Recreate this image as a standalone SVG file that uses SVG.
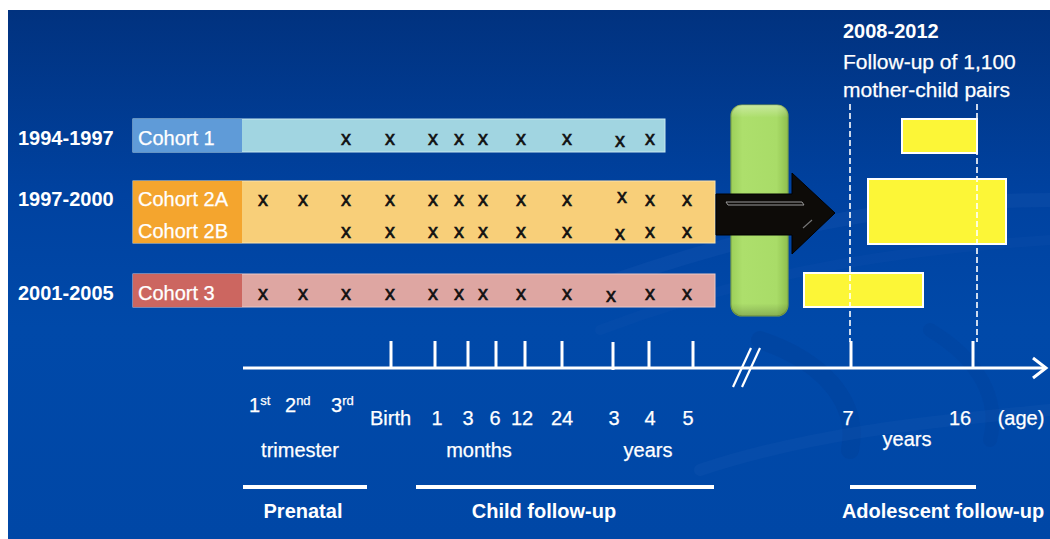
<svg xmlns="http://www.w3.org/2000/svg" width="1050" height="539" viewBox="0 0 1050 539">
  <defs>
    <linearGradient id="bg" x1="0" y1="0" x2="0" y2="1">
      <stop offset="0" stop-color="#01327f"/>
      <stop offset="0.35" stop-color="#0042a0"/>
      <stop offset="0.6" stop-color="#0049a9"/>
      <stop offset="1" stop-color="#0047a6"/>
    </linearGradient>
    <linearGradient id="green" x1="0" y1="0" x2="1" y2="0">
      <stop offset="0" stop-color="#9ccf5a"/>
      <stop offset="0.2" stop-color="#addf6c"/>
      <stop offset="0.8" stop-color="#a9dc68"/>
      <stop offset="1" stop-color="#8fbf4e"/>
    </linearGradient>
    <linearGradient id="greenTop" x1="0" y1="0" x2="0" y2="1">
      <stop offset="0" stop-color="#ffffff" stop-opacity="0.35"/>
      <stop offset="0.06" stop-color="#ffffff" stop-opacity="0"/>
      <stop offset="0.94" stop-color="#000000" stop-opacity="0"/>
      <stop offset="1" stop-color="#000000" stop-opacity="0.2"/>
    </linearGradient>
    <marker id="chev" markerWidth="18" markerHeight="24" refX="15" refY="12" orient="auto" markerUnits="userSpaceOnUse">
      <path d="M2,2 L15,12 L2,22" fill="none" stroke="#ffffff" stroke-width="3"/>
    </marker>
  </defs>
  <style>
    .t { font-family: "Liberation Sans", Arial, sans-serif; fill: #ffffff; }
    .reg { font-size: 20px; stroke: #ffffff; stroke-width: 0.25; }
    .bold { font-size: 20px; font-weight: bold; }
    .sup { font-size: 13px; }
    .x { font-family: "Liberation Sans", Arial, sans-serif; font-size: 20px; fill: #111111; stroke: #111111; stroke-width: 0.6; text-anchor: middle; }
    .mid { text-anchor: middle; }
    .axis { stroke: #ffffff; stroke-width: 3; fill: none; }
    .bar { stroke: #ffffff; stroke-width: 4; }
    .dash { stroke: #ffffff; stroke-width: 1.6; stroke-dasharray: 6 3; fill: none; }
    .ybox { fill: #fcf637; stroke: #ffffff; stroke-width: 2; }
  </style>

  <!-- backdrop -->
  <rect x="0" y="0" width="1050" height="539" fill="#ffffff"/>
  <rect x="8" y="10" width="1042" height="529" fill="url(#bg)"/>
  <g fill="none" stroke-linecap="round">
    <path d="M560,300 C720,240 880,200 1050,200" stroke="#3a74c4" stroke-opacity="0.12" stroke-width="14"/>
    <path d="M600,330 C760,270 900,250 1050,240" stroke="#2a66b8" stroke-opacity="0.1" stroke-width="10"/>
    <path d="M760,340 C820,360 860,400 850,450" stroke="#003a90" stroke-opacity="0.25" stroke-width="18"/>
    <path d="M930,330 C980,360 1000,400 990,440" stroke="#003a90" stroke-opacity="0.2" stroke-width="14"/>
    <path d="M700,470 C820,430 950,420 1050,410" stroke="#3a74c4" stroke-opacity="0.1" stroke-width="12"/>
  </g>

  <!-- period headings -->
  <g id="period-labels">
    <text class="t bold" x="18" y="145">1994-1997</text>
    <text class="t bold" x="18" y="206">1997-2000</text>
    <text class="t bold" x="18" y="300">2001-2005</text>
  </g>

  <!-- Cohort 1 -->
  <g id="cohort1">
    <rect x="133" y="119" width="532" height="33" fill="#a1d5e1" stroke="#c8e8ef" stroke-width="1"/>
    <rect x="133" y="119" width="109" height="33" fill="#5f9bd8"/>
    <text class="t reg" x="138" y="145">Cohort 1</text>
    <text class="x" y="145"><tspan x="346">x</tspan><tspan x="390">x</tspan><tspan x="433">x</tspan><tspan x="459">x</tspan><tspan x="483">x</tspan><tspan x="521">x</tspan><tspan x="567">x</tspan><tspan x="620" dy="2">x</tspan><tspan x="650" dy="-2">x</tspan></text>
  </g>

  <!-- Cohort 2A / 2B -->
  <g id="cohort2">
    <rect x="133" y="181" width="582" height="62" fill="#f8cf79" stroke="#fbe2ac" stroke-width="1"/>
    <rect x="133" y="181" width="109" height="62" fill="#f4a52e"/>
    <text class="t reg" x="138" y="206">Cohort 2A</text>
    <text class="t reg" x="138" y="238">Cohort 2B</text>
    <text class="x" y="206"><tspan x="263">x</tspan><tspan x="303">x</tspan><tspan x="346">x</tspan><tspan x="390">x</tspan><tspan x="433">x</tspan><tspan x="459">x</tspan><tspan x="483">x</tspan><tspan x="521">x</tspan><tspan x="567">x</tspan><tspan x="622" dy="-3">x</tspan><tspan x="650" dy="3">x</tspan><tspan x="687">x</tspan></text>
    <text class="x" y="238"><tspan x="346">x</tspan><tspan x="390">x</tspan><tspan x="433">x</tspan><tspan x="459">x</tspan><tspan x="483">x</tspan><tspan x="521">x</tspan><tspan x="567">x</tspan><tspan x="620" dy="2">x</tspan><tspan x="650" dy="-2">x</tspan><tspan x="687">x</tspan></text>
  </g>

  <!-- Cohort 3 -->
  <g id="cohort3">
    <rect x="133" y="274" width="582" height="33" fill="#dea6a2" stroke="#ecc8c5" stroke-width="1"/>
    <rect x="133" y="274" width="109" height="33" fill="#cc6660"/>
    <text class="t reg" x="138" y="300">Cohort 3</text>
    <text class="x" y="300"><tspan x="263">x</tspan><tspan x="303">x</tspan><tspan x="346">x</tspan><tspan x="390">x</tspan><tspan x="433">x</tspan><tspan x="459">x</tspan><tspan x="483">x</tspan><tspan x="521">x</tspan><tspan x="567">x</tspan><tspan x="611" dy="2">x</tspan><tspan x="650" dy="-2">x</tspan><tspan x="687">x</tspan></text>
  </g>

  <!-- transition pillar -->
  <g id="pillar">
    <rect x="731" y="105" width="57" height="211" rx="11" fill="url(#green)" stroke="#7ea648" stroke-width="1.2"/>
    <rect x="731" y="105" width="57" height="211" rx="11" fill="url(#greenTop)"/>
  </g>

  <!-- follow-up study -->
  <g id="followup-heading">
    <text class="t bold" x="843" y="38">2008-2012</text>
    <text class="t" x="843" y="69" font-size="21" stroke="#ffffff" stroke-width="0.25">Follow-up of 1,100</text>
    <text class="t" x="843" y="97" font-size="21" stroke="#ffffff" stroke-width="0.25">mother-child pairs</text>
  </g>
  <g id="followup-boxes">
    <rect class="ybox" x="902" y="119" width="75" height="34"/>
    <rect class="ybox" x="868" y="179" width="138" height="65"/>
    <rect class="ybox" x="804" y="273" width="119" height="34"/>
  </g>

  <!-- connectors -->
  <g id="connectors">
    <!-- transfer arrow -->
    <path d="M716,194 L792,194 L792,173 L835,213 L792,254 L792,235 L716,235 Z" fill="#0d0b08" stroke="#000000" stroke-width="1"/>
    <path d="M726,202 L802,202 L804,205 L728,205 Z" fill="none" stroke="#9a9a9a" stroke-width="1"/>
    <path d="M803,228 L812,220" stroke="#777777" stroke-width="1.2"/>
    <!-- guides at age 7 and 16 -->
    <line class="dash" x1="850" y1="104" x2="850" y2="342"/>
    <line class="dash" x1="977" y1="104" x2="977" y2="342"/>
    <!-- age axis -->
    <line class="axis" x1="243" y1="368" x2="1046" y2="368" marker-end="url(#chev)"/>
    <g class="axis">
      <line x1="391" y1="341" x2="391" y2="368"/>
      <line x1="435" y1="341" x2="435" y2="368"/>
      <line x1="468" y1="341" x2="468" y2="368"/>
      <line x1="496" y1="341" x2="496" y2="368"/>
      <line x1="525" y1="341" x2="525" y2="368"/>
      <line x1="562" y1="341" x2="562" y2="368"/>
      <line x1="613" y1="342" x2="613" y2="370"/>
      <line x1="649" y1="341" x2="649" y2="368"/>
      <line x1="693" y1="341" x2="693" y2="368"/>
      <line x1="851" y1="341" x2="851" y2="368"/>
      <line x1="973" y1="341" x2="973" y2="368"/>
      <!-- axis break -->
      <line x1="733" y1="387" x2="751" y2="348" stroke-width="2.2"/>
      <line x1="742" y1="387" x2="760" y2="348" stroke-width="2.2"/>
    </g>
    <!-- section bars -->
    <line class="bar" x1="243" y1="487" x2="367" y2="487"/>
    <line class="bar" x1="416" y1="487" x2="714" y2="487"/>
    <line class="bar" x1="850" y1="487" x2="976" y2="487"/>
  </g>

  <!-- axis labels -->
  <g id="axis-labels">
    <text class="t reg" x="249" y="412">1<tspan class="sup" dy="-7">st</tspan></text>
    <text class="t reg" x="285" y="412">2<tspan class="sup" dy="-7">nd</tspan></text>
    <text class="t reg" x="331" y="412">3<tspan class="sup" dy="-7">rd</tspan></text>
    <text class="t reg" x="370" y="425">Birth</text>
    <text class="t reg mid" x="437" y="425">1</text>
    <text class="t reg mid" x="468" y="425">3</text>
    <text class="t reg mid" x="495" y="425">6</text>
    <text class="t reg mid" x="522" y="425">12</text>
    <text class="t reg mid" x="562" y="425">24</text>
    <text class="t reg mid" x="614" y="425">3</text>
    <text class="t reg mid" x="650" y="425">4</text>
    <text class="t reg mid" x="688" y="425">5</text>
    <text class="t reg mid" x="848" y="425">7</text>
    <text class="t reg mid" x="960" y="425">16</text>
    <text class="t reg mid" x="1021" y="425">(age)</text>
    <text class="t reg mid" x="300" y="457">trimester</text>
    <text class="t reg mid" x="479" y="457">months</text>
    <text class="t reg mid" x="648" y="457">years</text>
    <text class="t reg mid" x="907" y="446">years</text>
  </g>

  <!-- section titles -->
  <g id="section-titles">
    <text class="t bold mid" x="303" y="518">Prenatal</text>
    <text class="t bold mid" x="544" y="518">Child follow-up</text>
    <text class="t bold mid" x="943" y="518">Adolescent follow-up</text>
  </g>
</svg>
